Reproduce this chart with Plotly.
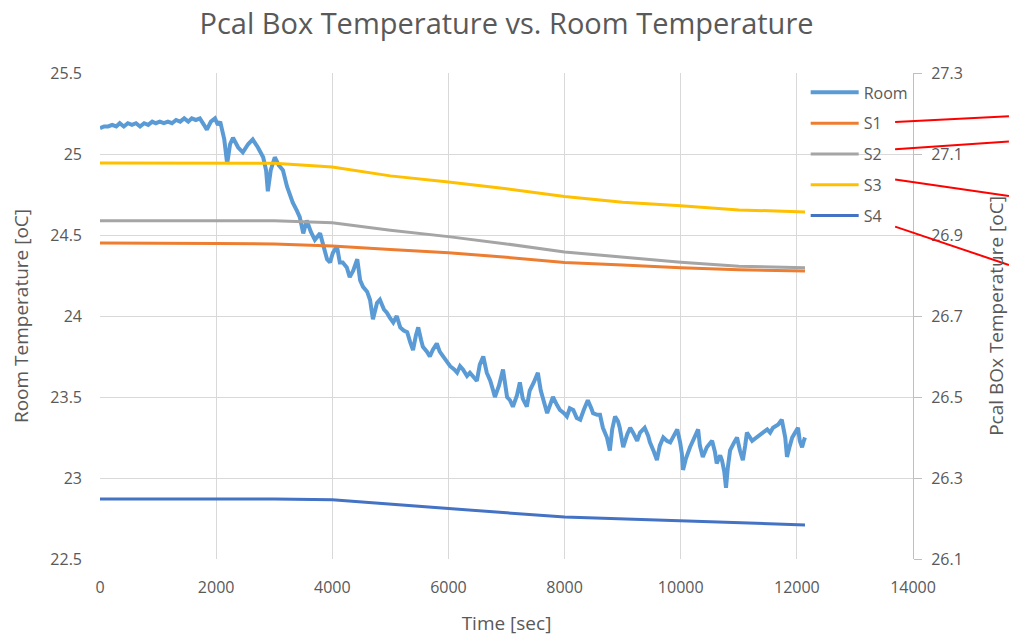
import plotly.graph_objects as go

# ---------------- data ----------------
room_time = [0, 70, 140, 210, 280, 340, 410, 480, 550, 620, 690, 760, 830, 900, 960,
             1030, 1100, 1170, 1240, 1310, 1380, 1450, 1520, 1580, 1650, 1720, 1790, 1840,
             1910, 1980, 2030, 2070, 2140, 2190, 2240, 2290, 2380, 2460, 2550, 2630, 2720,
             2810, 2860, 2890, 2940, 3010, 3080, 3150, 3220, 3270, 3320, 3390, 3440, 3500,
             3560, 3630, 3700, 3790, 3860, 3910, 3960, 4010, 4080, 4130, 4180, 4250, 4300,
             4360, 4430, 4480, 4530, 4600, 4650, 4700, 4770, 4820, 4890, 4940, 4990, 5050,
             5110, 5170, 5230, 5290, 5340, 5390, 5440, 5480, 5530, 5560, 5630, 5680, 5730,
             5800, 5850, 5910, 5980, 6030, 6100, 6150, 6200, 6250, 6320, 6370, 6440, 6490,
             6540, 6600, 6660, 6720, 6770, 6800, 6870, 6940, 7010, 7060, 7110, 7180, 7230,
             7280, 7350, 7400, 7470, 7540, 7590, 7630, 7700, 7750, 7800, 7870, 7920, 7990,
             8040, 8090, 8150, 8210, 8270, 8330, 8400, 8460, 8490, 8560, 8610, 8660, 8730,
             8780, 8820, 8870, 8920, 8950, 9010, 9080, 9130, 9180, 9250, 9300, 9380, 9440,
             9470, 9540, 9590, 9640, 9700, 9760, 9820, 9880, 9940, 9990, 10020, 10040,
             10090, 10160, 10230, 10300, 10330, 10380, 10450, 10540, 10590, 10620, 10680,
             10710, 10750, 10780, 10810, 10850, 10920, 10970, 11020, 11070, 11110, 11140,
             11230, 11310, 11400, 11490, 11540, 11590, 11680, 11740, 11800, 11830, 11880,
             11920, 11970, 12020, 12050, 12090, 12120, 12140]
room_temp = [25.16, 25.17, 25.17, 25.18, 25.17, 25.19, 25.17, 25.19, 25.18, 25.19, 25.17,
             25.19, 25.18, 25.20, 25.19, 25.20, 25.19, 25.20, 25.19, 25.21, 25.20, 25.22,
             25.20, 25.22, 25.21, 25.22, 25.18, 25.15, 25.20, 25.22, 25.18, 25.20, 25.09,
             24.94, 25.06, 25.10, 25.04, 25.01, 25.06, 25.09, 25.04, 24.98, 24.90, 24.77,
             24.90, 24.98, 24.93, 24.90, 24.80, 24.75, 24.70, 24.65, 24.61, 24.51, 24.59,
             24.52, 24.47, 24.51, 24.41, 24.35, 24.33, 24.39, 24.43, 24.33, 24.33, 24.30,
             24.24, 24.28, 24.35, 24.22, 24.18, 24.15, 24.10, 23.98, 24.08, 24.10, 24.04,
             24.02, 23.99, 23.96, 24.00, 23.93, 23.91, 23.90, 23.84, 23.79, 23.88, 23.93,
             23.85, 23.81, 23.78, 23.75, 23.79, 23.83, 23.78, 23.75, 23.72, 23.69, 23.67,
             23.65, 23.69, 23.67, 23.63, 23.65, 23.62, 23.60, 23.70, 23.75, 23.65, 23.60,
             23.54, 23.50, 23.57, 23.67, 23.50, 23.48, 23.44, 23.51, 23.59, 23.49, 23.44,
             23.54, 23.59, 23.65, 23.54, 23.48, 23.40, 23.45, 23.50, 23.45, 23.42, 23.40,
             23.38, 23.43, 23.42, 23.37, 23.36, 23.42, 23.48, 23.43, 23.40, 23.39, 23.39,
             23.31, 23.25, 23.17, 23.30, 23.38, 23.35, 23.31, 23.19, 23.27, 23.31, 23.28,
             23.23, 23.28, 23.31, 23.26, 23.22, 23.16, 23.11, 23.20, 23.25, 23.23, 23.22,
             23.26, 23.30, 23.22, 23.15, 23.05, 23.12, 23.19, 23.25, 23.30, 23.20, 23.13,
             23.19, 23.23, 23.16, 23.09, 23.14, 23.11, 23.04, 22.94, 23.06, 23.17, 23.22,
             23.25, 23.17, 23.11, 23.20, 23.28, 23.23, 23.25, 23.27, 23.30, 23.28, 23.31,
             23.33, 23.36, 23.25, 23.13, 23.20, 23.25, 23.28, 23.31, 23.23, 23.19, 23.23,
             23.25]

s_time = [0, 1000, 2000, 3000, 4000, 5000, 6000, 7000, 8000, 9000, 10000, 11000, 12140]
s1 = [26.880, 26.880, 26.879, 26.878, 26.873, 26.864, 26.856, 26.845, 26.832, 26.826,
      26.819, 26.814, 26.811]
s2 = [26.935, 26.935, 26.935, 26.935, 26.930, 26.912, 26.896, 26.878, 26.858, 26.845,
      26.833, 26.823, 26.819]
s3 = [27.078, 27.078, 27.078, 27.077, 27.068, 27.046, 27.031, 27.014, 26.995, 26.981,
      26.972, 26.962, 26.957]
s4 = [26.248, 26.248, 26.248, 26.248, 26.246, 26.235, 26.224, 26.214, 26.204, 26.199,
      26.194, 26.189, 26.184]

x_ticks = [0, 2000, 4000, 6000, 8000, 10000, 12000, 14000]
x_labels = ["0", "2000", "4000", "6000", "8000", "10000", "12000", "14000"]
left_ticks = [22.5, 23, 23.5, 24, 24.5, 25, 25.5]
left_labels = ["22.5", "23", "23.5", "24", "24.5", "25", "25.5"]
right_ticks = [26.1, 26.3, 26.5, 26.7, 26.9, 27.1, 27.3]
right_labels = ["26.1", "26.3", "26.5", "26.7", "26.9", "27.1", "27.3"]

FONT = "Open Sans"
GRAY = "#595959"
GRID = "#d9d9d9"

fig = go.Figure()
fig.add_trace(go.Scatter(x=room_time, y=room_temp, name="Room", mode="lines",
                         line=dict(color="#5b9bd5", width=4), legendgroup="a"))
for name, ys, col, grp in [("S1", s1, "#ed7d31", "b"), ("S2", s2, "#a5a5a5", "c"),
                           ("S3", s3, "#ffc000", "d"), ("S4", s4, "#4472c4", "e")]:
    fig.add_trace(go.Scatter(x=s_time, y=ys, name=name, mode="lines", yaxis="y2",
                             line=dict(color=col, width=3), legendgroup=grp))

red_lines = [((0.978, 0.899), (1.118, 0.911)),
             ((0.978, 0.843), (1.118, 0.859)),
             ((0.978, 0.781), (1.118, 0.747)),
             ((0.978, 0.684), (1.118, 0.605))]
shapes = [dict(type="line", xref="paper", yref="paper", x0=a[0], y0=a[1], x1=b[0], y1=b[1],
               line=dict(color="#ff0000", width=2)) for a, b in red_lines]

fig.update_layout(
    width=1009, height=636,
    margin=dict(l=100, r=96, t=73, b=77, autoexpand=False),
    paper_bgcolor="white", plot_bgcolor="white",
    font=dict(family=FONT, color=GRAY, size=16),
    title=dict(text="Pcal Box Temperature vs. Room Temperature", x=0.5, xref="paper",
               xanchor="center", y=0.962, yanchor="middle",
               font=dict(family=FONT, size=29, color=GRAY)),
    xaxis=dict(range=[0, 14000], tickvals=x_ticks, ticktext=x_labels, showgrid=True,
               gridcolor=GRID, zeroline=False, showline=False, ticks="",
               ticklabelstandoff=17, automargin=False,
               title=dict(text="Time [sec]", font=dict(size=19, color=GRAY), standoff=23),
               tickfont=dict(size=16, color=GRAY)),
    yaxis=dict(range=[22.5, 25.5], tickvals=left_ticks, ticktext=left_labels,
               showgrid=True, gridcolor=GRID, zeroline=False, showline=False, ticks="",
               ticklabelstandoff=17, automargin=False,
               title=dict(text="Room Temperature [oC]", font=dict(size=19, color=GRAY),
                          standoff=16),
               tickfont=dict(size=16, color=GRAY)),
    yaxis2=dict(range=[26.1, 27.3], tickvals=right_ticks, ticktext=right_labels,
                overlaying="y", side="right", showgrid=False, zeroline=False,
                showline=True, linecolor="#bfbfbf", linewidth=1, ticks="outside",
                ticklen=8, tickcolor="#bfbfbf", ticklabelstandoff=6, automargin=False,
                title=dict(text="Pcal BOx Temperature [oC]", font=dict(size=19, color=GRAY),
                           standoff=30),
                tickfont=dict(size=16, color=GRAY)),
    legend=dict(x=0.868, y=0.995, xanchor="left", yanchor="top",
                bgcolor="rgba(255,255,255,0)",
                font=dict(size=16, color=GRAY), tracegroupgap=7, itemwidth=48),
    shapes=shapes,
)

fig.write_html("out.html")
